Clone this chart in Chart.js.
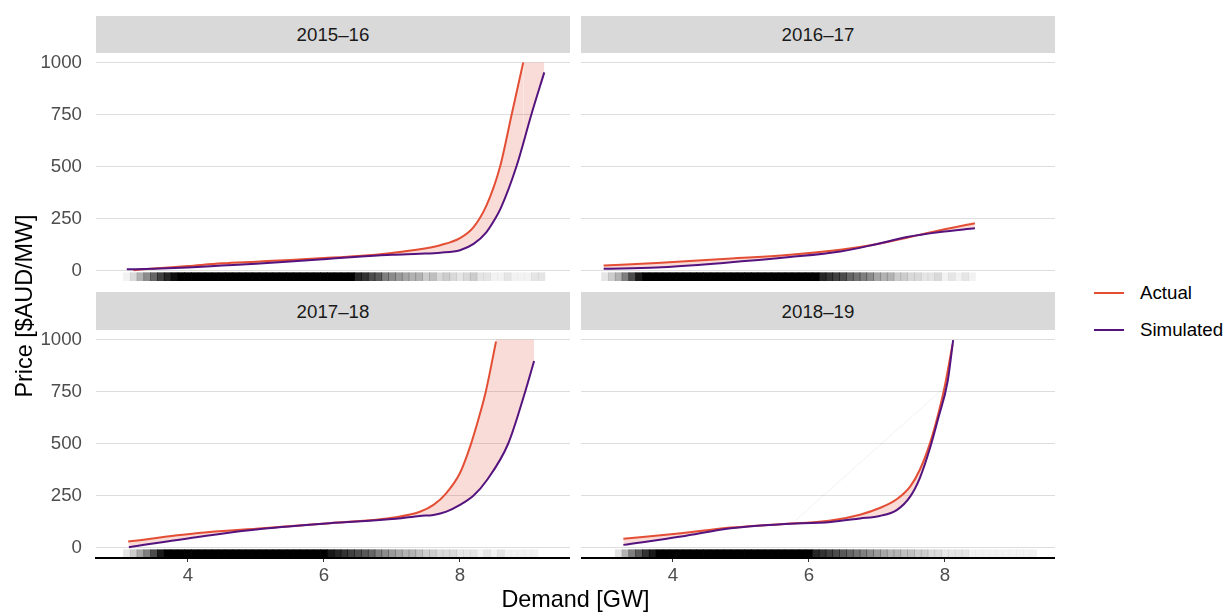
<!DOCTYPE html>
<html><head><meta charset="utf-8">
<script src="https://cdn.jsdelivr.net/npm/chart.js@4.4.1/dist/chart.umd.min.js"></script>
<style>
html,body{margin:0;padding:0;background:#fff;}
body{width:1228px;height:613px;overflow:hidden;position:relative;font-family:"Liberation Sans",Arial,sans-serif;}
canvas{position:absolute;}
.strip{position:absolute;background:#D9D9D9;color:#1A1A1A;font-size:18.7px;text-align:center;white-space:nowrap;}
.title{position:absolute;color:#000;font-size:23.4px;text-align:center;white-space:nowrap;line-height:30px;height:30px;}
.leg{position:absolute;color:#000;font-size:18.7px;line-height:20px;white-space:nowrap;}
.legline{position:absolute;height:2px;width:30px;}
</style></head>
<body>
<div class="strip" style="left:96px;top:16px;width:474px;height:37px;line-height:38px;" id="s1"></div>
<div class="strip" style="left:581px;top:16px;width:474px;height:37px;line-height:38px;" id="s2"></div>
<div class="strip" style="left:96px;top:292px;width:474px;height:38px;line-height:39px;" id="s3"></div>
<div class="strip" style="left:581px;top:292px;width:474px;height:38px;line-height:39px;" id="s4"></div>
<canvas id="c1" width="570" height="229" style="left:0;top:52px;"></canvas>
<canvas id="c2" width="474" height="229" style="left:581px;top:52px;"></canvas>
<canvas id="c3" width="570" height="269" style="left:0;top:329px;"></canvas>
<canvas id="c4" width="474" height="269" style="left:581px;top:329px;"></canvas>
<div class="title" style="left:375.5px;top:584.4px;width:400px;">Demand [GW]</div>
<div class="title" style="left:-126.4px;top:290.5px;width:300px;transform:rotate(-90deg);">Price [$AUD/MW]</div>
<div class="legline" id="l1" style="left:1094px;top:291.7px;"></div>
<div class="leg" style="left:1140px;top:282.8px;" id="t1"></div>
<div class="legline" id="l2" style="left:1094px;top:329px;"></div>
<div class="leg" style="left:1140px;top:319.8px;" id="t2"></div>
<script>
// ---------- data ----------
const panelNames = ['2015\u201316', '2016\u201317', '2017\u201318', '2018\u201319'];
const seriesNames = ['Actual', 'Simulated'];
const yTicks = [0, 250, 500, 750, 1000];
const xTicks = [4, 6, 8];

// 2015–16
const actX_1516 = [3.2, 3.5, 4.0, 4.5, 5.0, 5.5, 6.0, 6.5, 7.0, 7.41, 7.71, 8.0, 8.2, 8.39, 8.59, 8.76, 8.93];
const actY_1516 = [2, 10, 22, 35, 43, 51, 60, 70, 85, 102, 122, 156, 209, 313, 500, 750, 1000];
const simX_1516 = [3.1, 3.5, 4.0, 4.5, 5.0, 5.5, 6.0, 6.5, 7.0, 7.41, 7.71, 8.0, 8.2, 8.39, 8.51, 8.6, 8.83, 9.05, 9.24];
const simY_1516 = [6, 9, 15, 24, 33, 44, 55, 66, 76, 81, 86, 98, 128, 185, 245, 300, 500, 750, 952];
const capX_1516 = [8.93, 9.24];
const capY_1516 = [1000, 1000];

// 2016–17
const actX_1617 = [2.98, 3.76, 4.74, 5.72, 6.46, 6.95, 7.44, 7.93, 8.44];
const actY_1617 = [24, 37, 56, 76, 100, 124, 158, 194, 227];
const simX_1617 = [2.98, 3.76, 4.74, 5.72, 6.46, 6.95, 7.44, 7.93, 8.44];
const simY_1617 = [9, 15, 37, 65, 92, 124, 161, 185, 203];

// 2017–18
const actX_1718 = [3.12, 4.12, 5.10, 6.08, 7.06, 7.41, 7.61, 7.80, 8.0, 8.15, 8.27, 8.38, 8.53];
const actY_1718 = [29, 69, 93, 117, 146, 172, 205, 262, 358, 486, 615, 750, 990];
const simX_1718 = [3.13, 4.12, 5.10, 6.08, 7.06, 7.41, 7.61, 7.80, 8.0, 8.2, 8.4, 8.71, 8.96, 9.09];
const simY_1718 = [2, 50, 90, 117, 138, 152, 157, 173, 205, 250, 326, 500, 750, 896];
const capX_1718 = [8.53, 9.09];
const capY_1718 = [1000, 1000];

// 2018–19
const actX_1819 = [3.27, 4.12, 4.85, 5.59, 6.32, 6.75, 7.04, 7.29, 7.49, 7.63, 7.78, 7.90, 8.0, 8.11];
const actY_1819 = [42, 69, 96, 112, 130, 158, 190, 232, 294, 374, 502, 640, 780, 975];
const simX_1819 = [3.27, 4.12, 4.85, 5.59, 6.32, 6.75, 7.04, 7.29, 7.49, 7.63, 7.78, 7.90, 8.04, 8.12];
const simY_1819 = [13, 53, 93, 112, 123, 140, 152, 180, 246, 334, 478, 620, 800, 997];
// faint straight stroke visible across the 2018–19 panel
const faintX_1819 = [5.8, 8.03];
const faintY_1819 = [130, 780];

// demand rug: bin centres [GW] and darkness of the rug in each bin
const rugBins = [3.0,3.1,3.2,3.3,3.4,3.5,3.6,3.7,3.8,3.9,4.0,4.1,4.2,4.3,4.4,4.5,4.6,4.7,4.8,4.9,5.0,5.1,5.2,5.3,5.4,5.5,5.6,5.7,5.8,5.9,6.0,6.1,6.2,6.3,6.4,6.5,6.6,6.7,6.8,6.9,7.0,7.1,7.2,7.3,7.4,7.5,7.6,7.7,7.8,7.9,8.0,8.1,8.2,8.3,8.4,8.5,8.6,8.7,8.8,8.9,9.0,9.1,9.2,9.3];
const rug_1516 = [0,.05,.15,.3,.45,.6,.75,.85,.95, 1,1,1,1,1,1,1,1,1,1,1,1,1,1,1,1,1,1,1,1,1,1,1,1,1,1, .85,.8,.7,.65,.5,.45,.4,.35,.3,.3, .2,.25,.15,.2,.15, .1,.15,.2,.1,.1, .05,.05,.1,.05,.05, .05,.1,.1,0];
const rug_1617 = [.1,.2,.3,.5,.7,.9, 1,1,1,1,1,1,1,1,1,1,1,1,1,1,1,1,1,1,1,1,1,1,1,1,1,1, .85,.8,.75,.7,.6,.55,.5,.45,.35,.3, .3,.2,.2,.15,.15, .1,.1,.15,.05,.1, .05,.1,.05, 0,0,0,0,0,0,0,0,0];
const rug_1718 = [0,.1,.2,.35,.5,.7,.9, 1,1,1,1,1,1,1,1,1,1,1,1,1,1,1,1,1,1,1,1,1,1,1,1, .9,.85,.8,.75,.7,.65,.6,.5,.45,.4, .35,.3,.3,.25,.2, .2,.15,.15,.15,.1, .1,.1,.05,.1,.05, .1,.05,.05,.05,.05, .05,0,0];
const rug_1819 = [0,0,.1,.3,.5,.65,.8,.9, 1,1,1,1,1,1,1,1,1,1,1,1,1,1,1,1,1,1,1,1,1,1,1, .85,.8,.75,.7,.65,.6,.55,.5,.45,.4, .35,.3,.3,.25,.25, .2,.2,.15,.15,.1, .1,.1,.1,.05,.05, .05,.05,.05,.05,.05, .05,.05,.05];

// ---------- styling ----------
const FONT = '"Liberation Sans", Arial, sans-serif';
const RED = '#E34E35';
const PURPLE = '#54137E';
const RIBBON = 'rgba(227,78,53,0.2)';
const GRID = '#DDDDDD';
const Y_MIN = -50, Y_MAX = 1050, X_MIN = 2.647, X_MAX = 9.618;
const RUG_LO = -50, RUG_HI = -10;

document.getElementById('s1').textContent = panelNames[0];
document.getElementById('s2').textContent = panelNames[1];
document.getElementById('s3').textContent = panelNames[2];
document.getElementById('s4').textContent = panelNames[3];
document.getElementById('t1').textContent = seriesNames[0];
document.getElementById('t2').textContent = seriesNames[1];
document.getElementById('l1').style.background = RED;
document.getElementById('l2').style.background = PURPLE;

function pts(xs, ys) { return xs.map((x, i) => ({x: x, y: ys[i]})); }

const panels = [
  {canvas: 'c1', actX: actX_1516, actY: actY_1516, simX: simX_1516, simY: simY_1516, capX: capX_1516, capY: capY_1516, rug: rug_1516, left: true, bottom: false},
  {canvas: 'c2', actX: actX_1617, actY: actY_1617, simX: simX_1617, simY: simY_1617, rug: rug_1617, left: false, bottom: false},
  {canvas: 'c3', actX: actX_1718, actY: actY_1718, simX: simX_1718, simY: simY_1718, capX: capX_1718, capY: capY_1718, rug: rug_1718, left: true, bottom: true},
  {canvas: 'c4', actX: actX_1819, actY: actY_1819, simX: simX_1819, simY: simY_1819, rug: rug_1819, faintX: faintX_1819, faintY: faintY_1819, left: false, bottom: true}
];

function build(p) {
  const datasets = [
    {type: 'bar', label: 'rug', data: rugBins.map(x => ({x: x, y: [RUG_LO, RUG_HI]})),
     backgroundColor: p.rug.map(a => 'rgba(0,0,0,' + a + ')'), borderWidth: 0,
     barPercentage: 1, categoryPercentage: 1, order: 10},
    {type: 'line', label: seriesNames[1], data: pts(p.simX, p.simY), borderColor: PURPLE, borderWidth: 2,
     pointRadius: 0, cubicInterpolationMode: 'monotone', fill: false, order: 1},
    {type: 'line', label: seriesNames[0], data: pts(p.actX, p.actY), borderColor: RED, borderWidth: 2,
     pointRadius: 0, cubicInterpolationMode: 'monotone', fill: {target: 1}, backgroundColor: RIBBON, order: 4}
  ];
  if (p.capX) {
    datasets.push({type: 'line', label: 'ribbon cap', data: pts(p.capX, p.capY), borderColor: 'rgba(0,0,0,0)',
      borderWidth: 1, pointRadius: 0, tension: 0, fill: {target: 1}, backgroundColor: RIBBON, order: 5});
  }
  if (p.faintX) {
    datasets.push({type: 'line', label: 'faint', data: pts(p.faintX, p.faintY), borderColor: 'rgba(0,0,0,0.07)',
      borderWidth: 0.8, pointRadius: 0, tension: 0, fill: false, order: 6});
  }
  new Chart(document.getElementById(p.canvas), {
    type: 'line',
    data: {datasets: datasets},
    options: {
      responsive: false, animation: false, devicePixelRatio: 1,
      layout: {padding: 0},
      plugins: {legend: {display: false}, tooltip: {enabled: false}, title: {display: false}},
      scales: {
        x: {
          type: 'linear', min: X_MIN, max: X_MAX, offset: false, display: p.bottom,
          afterBuildTicks: s => { s.ticks = xTicks.map(v => ({value: v})); },
          afterFit: s => { if (p.bottom) { s.height = 40; } s.paddingLeft = 0; s.paddingRight = 0; },
          grid: {display: true, offset: false, drawOnChartArea: false, drawTicks: true, tickLength: 4, color: '#333333', lineWidth: 1},
          border: {display: true, color: '#000000', width: 2},
          ticks: {color: '#4D4D4D', padding: 3, maxRotation: 0, font: {family: FONT, size: 18.7},
                  callback: v => String(v)}
        },
        y: {
          type: 'linear', min: Y_MIN, max: Y_MAX, beginAtZero: false,
          afterBuildTicks: s => { s.ticks = yTicks.map(v => ({value: v})); },
          afterFit: s => { s.width = p.left ? 96 : 0; s.paddingTop = 0; s.paddingBottom = 0; },
          grid: {color: GRID, lineWidth: 1.1, drawTicks: false},
          border: {display: false},
          ticks: {display: p.left, padding: 14, color: '#4D4D4D', font: {family: FONT, size: 18.7},
                  callback: v => String(v)}
        }
      }
    }
  });
}
panels.forEach(build);
</script>
</body></html>
